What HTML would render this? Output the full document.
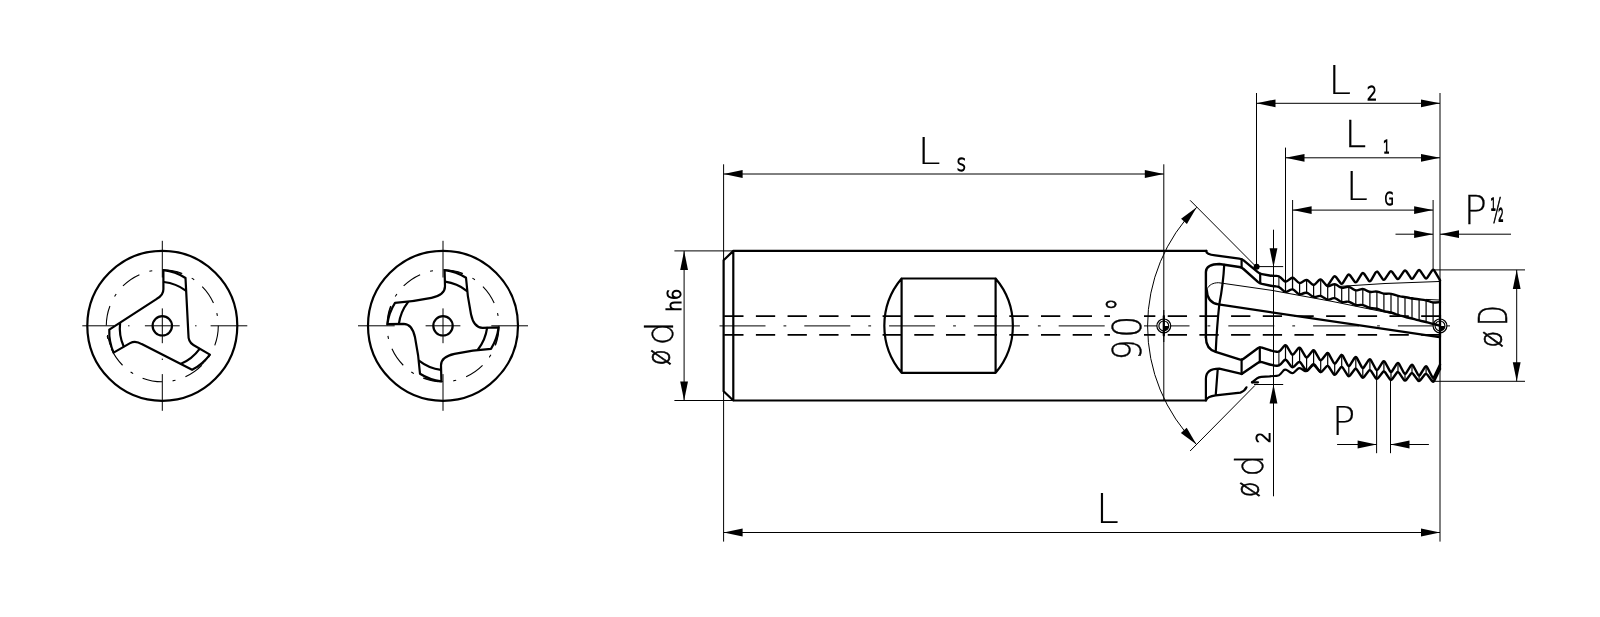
<!DOCTYPE html>
<html><head><meta charset="utf-8"><title>Thread mill drawing</title>
<style>
html,body{margin:0;padding:0;background:#fff}
svg{display:block}
.k{fill:none;stroke:#000;stroke-width:2.2;stroke-linejoin:round;stroke-linecap:round}
.t{fill:none;stroke:#000;stroke-width:1}
.h{stroke-width:1.2}
.z{stroke-width:2.4}
.a{fill:#000;stroke:none}
.x{opacity:.999}
.x text{font-family:"DejaVu Sans Light","DejaVu Sans","Liberation Sans",sans-serif;font-weight:200;font-size:40px;fill:#000;stroke:#000;stroke-width:0;vector-effect:non-scaling-stroke}
</style></head><body>
<svg width="1600" height="617" viewBox="0 0 1600 617">
<rect width="1600" height="617" fill="#fff"/>
<path class="t" d="M82.3,325.8L114.0,325.8"/><path class="t" d="M162.3,240.8L162.3,277.5"/><path class="t" d="M128.1,325.8L129.5,325.8"/><path class="t" d="M162.3,291.6L162.3,293.0"/><path class="t" d="M144.9,325.8L179.7,325.8"/><path class="t" d="M162.3,308.4L162.3,343.2"/><path class="t" d="M195.1,325.8L196.5,325.8"/><path class="t" d="M162.3,358.6L162.3,360.0"/><path class="t" d="M210.6,325.8L247.3,325.8"/><path class="t" d="M162.3,374.1L162.3,410.8"/>
<g transform="translate(162.3,325.8)"><circle class="k" r="75"/><circle class="t" r="56" stroke-dasharray="20 10.5 3 10.48" style="stroke-width:1.1"/><circle class="k" r="9.7"/><path class="k" d="M1.1,-55.6A52,52 0 0 1 23.2,-47.8L26.1,8.7Q25.8,16.2 31.1,19.2L47.6,28.8A52,52 0 0 1 29.8,44.0L-20.6,18.3Q-26.9,14.2 -32.2,17.3L-48.7,26.8A52,52 0 0 1 -53.0,3.8L-5.5,-27.0Q1.1,-30.4 1.1,-36.5Z"/><path class="k" d="M1.6,-43.8A45,45 0 0 1 23.5,-35.2"/><path class="t" d="M1.1,-55.6A55.6,55.6 0 0 1 19.5,-52.1"/><path class="k" d="M37.1,23.3A45,45 0 0 1 18.7,38.0"/><path class="t" d="M47.6,28.8A55.6,55.6 0 0 1 35.4,42.9"/><path class="k" d="M-38.7,20.5A45,45 0 0 1 -42.2,-2.8"/><path class="t" d="M-48.7,26.8A55.6,55.6 0 0 1 -54.9,9.2"/></g>
<path class="t" d="M358.0,325.8L394.7,325.8"/><path class="t" d="M443.0,240.8L443.0,277.5"/><path class="t" d="M408.8,325.8L410.2,325.8"/><path class="t" d="M443.0,291.6L443.0,293.0"/><path class="t" d="M425.6,325.8L460.4,325.8"/><path class="t" d="M443.0,308.4L443.0,343.2"/><path class="t" d="M475.8,325.8L477.2,325.8"/><path class="t" d="M443.0,358.6L443.0,360.0"/><path class="t" d="M491.3,325.8L528.0,325.8"/><path class="t" d="M443.0,374.1L443.0,410.8"/>
<g transform="translate(443.0,325.8)"><circle class="k" r="75"/><circle class="t" r="56" stroke-dasharray="20 10.5 3 10.48" style="stroke-width:1.1"/><circle class="k" r="9.7"/><path class="k" d="M1.6,-55.6A52,52 0 0 1 23.0,-48.0Q24.2,-30.0 28.0,-11.5C29.3,-5.2 32.0,2.0 39.5,2.0L55.6,1.6A52,52 0 0 1 48.0,23.0Q30.0,24.2 11.5,28.0C5.2,29.3 -2.0,32.0 -2.0,39.5L-1.6,55.6A52,52 0 0 1 -23.0,48.0Q-24.2,30.0 -28.0,11.5C-29.3,5.2 -32.0,-2.0 -39.5,-2.0L-55.6,-1.6A52,52 0 0 1 -48.0,-23.0Q-30.0,-24.2 -11.5,-28.0C-5.2,-29.3 2.0,-32.0 2.0,-39.5Z"/><path class="k" d="M2.1,-44.1A45,45 0 0 1 23.7,-35.0"/><path class="t" d="M1.6,-55.6A55.6,55.6 0 0 1 19.5,-52.1"/><path class="k" d="M44.1,2.1A45,45 0 0 1 35.0,23.7"/><path class="t" d="M55.6,1.6A55.6,55.6 0 0 1 52.1,19.5"/><path class="k" d="M-2.1,44.1A45,45 0 0 1 -23.7,35.0"/><path class="t" d="M-1.6,55.6A55.6,55.6 0 0 1 -19.5,52.1"/><path class="k" d="M-44.1,-2.1A45,45 0 0 1 -35.0,-23.7"/><path class="t" d="M-55.6,-1.6A55.6,55.6 0 0 1 -52.1,-19.5"/></g>
<path class="t" d="M719.5,325.9L765.5,325.9"/>
<path class="t" d="M783.5,325.9L786.3,325.9"/>
<path class="t" d="M804.3,325.9L850.3,325.9"/>
<path class="t" d="M868.3,325.9L871.1,325.9"/>
<path class="t" d="M889.1,325.9L935.1,325.9"/>
<path class="t" d="M953.1,325.9L955.9,325.9"/>
<path class="t" d="M973.9,325.9L1019.9,325.9"/>
<path class="t" d="M1037.9,325.9L1040.7,325.9"/>
<path class="t" d="M1058.7,325.9L1104.7,325.9"/>
<path class="t" d="M1122.7,325.9L1125.5,325.9"/>
<path class="t" d="M1143.5,325.9L1189.5,325.9"/>
<path class="t" d="M1207.5,325.9L1210.3,325.9"/>
<path class="t" d="M1228.3,325.9L1274.3,325.9"/>
<path class="t" d="M1292.3,325.9L1295.1,325.9"/>
<path class="t" d="M1313.1,325.9L1359.1,325.9"/>
<path class="t" d="M1377.1,325.9L1379.9,325.9"/>
<path class="t" d="M1397.9,325.9L1450.0,325.9"/>
<path class="k" d="M724.2,316.2H1440" stroke-dasharray="19.3 12.38" style="stroke-linecap:butt;stroke-width:1.8"/>
<path class="k" d="M724.2,334.9H1440" stroke-dasharray="19.3 12.38" style="stroke-linecap:butt;stroke-width:1.8"/>
<path class="t" d="M723.6,164.3L723.6,541.6"/>
<path class="t" d="M1163.8,164.3L1163.8,400.5"/>
<path class="t" d="M723.6,174.0L1163.8,174.0"/>
<path class="t" d="M723.6,532.5L1440.0,532.5"/>
<path class="t" d="M684.1,250.9L684.1,400.5"/>
<path class="t" d="M674.4,250.9L733.0,250.9"/>
<path class="t" d="M674.4,400.5L733.0,400.5"/>
<path class="t" d="M1256.5,103.3L1440.0,103.3"/>
<path class="t" d="M1256.5,93.0L1256.5,267.2"/>
<path class="t" d="M1440.0,93.0L1440.0,541.6"/>
<path class="t" d="M1285.5,157.8L1440.0,157.8"/>
<path class="t" d="M1285.5,147.6L1285.5,291.9"/>
<path class="t" d="M1292.6,210.1L1433.1,210.1"/>
<path class="t" d="M1292.6,200.0L1292.6,289.3"/>
<path class="t" d="M1433.1,200.0L1433.1,269.7"/>
<path class="t" d="M1395.5,234.2L1433.1,234.2"/>
<path class="t" d="M1440.0,234.2L1511.0,234.2"/>
<path class="t" d="M1516.7,269.9L1516.7,381.3"/>
<path class="t" d="M1433.1,269.9L1525.0,269.9"/>
<path class="t" d="M1433.1,381.3L1525.0,381.3"/>
<path class="t" d="M1337.1,444.5L1376.6,444.5"/>
<path class="t" d="M1390.5,444.5L1428.9,444.5"/>
<path class="t" d="M1376.6,370.1L1376.6,453.2"/>
<path class="t" d="M1390.5,380.0L1390.5,453.2"/>
<path class="t" d="M1273.5,229.7L1273.5,496.3"/>
<path class="t" d="M1256.6,266.6L1283.2,266.6"/>
<path class="t" d="M1254.0,384.5L1283.2,384.5"/>
<path class="t" d="M1256.6,267.2L1190.1,200.3"/>
<path class="t" d="M1254.8,385.6L1190.1,451.0"/>
<polygon class="a" points="723.6,174.0 742.6,170.1 742.6,177.9"/>
<polygon class="a" points="1163.8,174.0 1144.8,177.9 1144.8,170.1"/>
<polygon class="a" points="723.6,532.5 742.6,528.6 742.6,536.4"/>
<polygon class="a" points="1440.0,532.5 1421.0,536.4 1421.0,528.6"/>
<polygon class="a" points="684.1,250.9 688.0,269.9 680.2,269.9"/>
<polygon class="a" points="684.1,400.5 680.2,381.5 688.0,381.5"/>
<polygon class="a" points="1256.5,103.3 1275.5,99.4 1275.5,107.2"/>
<polygon class="a" points="1440.0,103.3 1421.0,107.2 1421.0,99.4"/>
<polygon class="a" points="1285.5,157.8 1304.5,153.9 1304.5,161.7"/>
<polygon class="a" points="1440.0,157.8 1421.0,161.7 1421.0,153.9"/>
<polygon class="a" points="1292.6,210.1 1311.6,206.2 1311.6,214.0"/>
<polygon class="a" points="1433.1,210.1 1414.1,214.0 1414.1,206.2"/>
<polygon class="a" points="1433.1,234.2 1414.1,238.1 1414.1,230.3"/>
<polygon class="a" points="1440.0,234.2 1459.0,230.3 1459.0,238.1"/>
<polygon class="a" points="1516.7,269.9 1520.6,288.9 1512.8,288.9"/>
<polygon class="a" points="1516.7,381.3 1512.8,362.3 1520.6,362.3"/>
<polygon class="a" points="1376.6,444.5 1357.6,448.4 1357.6,440.6"/>
<polygon class="a" points="1390.5,444.5 1409.5,440.6 1409.5,448.4"/>
<polygon class="a" points="1273.5,267.2 1269.6,248.2 1277.4,248.2"/>
<polygon class="a" points="1273.5,384.5 1277.4,403.5 1269.6,403.5"/>
<circle class="a" cx="1256.6" cy="266.8" r="3"/>
<path class="t" d="M1196.7,207.3A168.0,168.0 0 0 0 1196.5,444.5"/>
<polygon class="a" points="1196.7,207.3 1186.9,224.0 1181.1,218.8"/>
<polygon class="a" points="1196.5,444.5 1180.9,432.9 1186.7,427.8"/>
<path class="k" d="M1206.3,250.9H733.3V400.5H1205.9M733.3,250.9L723.6,260.3V391.2L733.3,400.5"/>
<path class="k" d="M901.6,278.5H995.6V372.8H901.6ZM901.6,278.5A73,73 0 0 0 901.6,372.8M995.6,278.5A73,73 0 0 1 995.6,372.8"/>
<path class="t h" d="M1285.5,281.7L1285.5,291.9"/>
<path class="t h" d="M1285.5,345.1L1285.5,359.7"/>
<path class="t h" d="M1292.5,277.7L1292.5,289.3"/>
<path class="t h" d="M1292.5,354.6L1292.5,367.3"/>
<path class="t h" d="M1299.6,283.1L1299.6,294.4"/>
<path class="t h" d="M1299.6,347.7L1299.6,361.9"/>
<path class="t h" d="M1306.6,279.9L1306.6,292.6"/>
<path class="t h" d="M1306.6,357.5L1306.6,370.6"/>
<path class="t h" d="M1313.6,285.0L1313.6,297.0"/>
<path class="t h" d="M1313.6,350.2L1313.6,364.1"/>
<path class="t h" d="M1320.7,279.3L1320.7,295.9"/>
<path class="t h" d="M1320.7,360.4L1320.7,372.1"/>
<path class="t h" d="M1327.7,286.2L1327.7,299.7"/>
<path class="t h" d="M1327.7,352.9L1327.7,365.8"/>
<path class="t h" d="M1334.7,284.2L1334.7,298.1"/>
<path class="t h" d="M1334.7,363.6L1334.7,374.9"/>
<path class="t h" d="M1341.7,287.9L1341.7,302.1"/>
<path class="t h" d="M1341.7,354.8L1341.7,366.9"/>
<path class="t h" d="M1348.8,286.8L1348.8,301.7"/>
<path class="t h" d="M1348.8,366.1L1348.8,376.3"/>
<path class="t h" d="M1355.8,290.4L1355.8,305.0"/>
<path class="t h" d="M1355.8,357.0L1355.8,368.7"/>
<path class="t h" d="M1362.8,289.0L1362.8,305.0"/>
<path class="t h" d="M1362.8,368.0L1362.8,377.8"/>
<path class="t h" d="M1369.9,291.9L1369.9,308.0"/>
<path class="t h" d="M1369.9,359.2L1369.9,370.1"/>
<path class="t h" d="M1376.9,291.5L1376.9,308.8"/>
<path class="t h" d="M1376.9,370.1L1376.9,378.9"/>
<path class="t h" d="M1383.9,293.7L1383.9,311.2"/>
<path class="t h" d="M1383.9,361.2L1383.9,371.4"/>
<path class="t h" d="M1391.0,293.7L1391.0,312.4"/>
<path class="t h" d="M1391.0,372.0L1391.0,380.0"/>
<path class="t h" d="M1398.0,295.9L1398.0,314.9"/>
<path class="t h" d="M1398.0,362.9L1398.0,372.0"/>
<path class="t h" d="M1405.0,297.1L1405.0,316.9"/>
<path class="t h" d="M1405.0,373.8L1405.0,380.7"/>
<path class="t h" d="M1412.0,298.4L1412.0,318.6"/>
<path class="t h" d="M1412.0,364.7L1412.0,373.1"/>
<path class="t h" d="M1419.1,299.3L1419.1,320.4"/>
<path class="t h" d="M1419.1,375.6L1419.1,381.1"/>
<path class="t h" d="M1426.1,300.3L1426.1,322.1"/>
<path class="t h" d="M1426.1,366.1L1426.1,373.8"/>
<path class="t h" d="M1433.1,302.5L1433.1,323.9"/>
<path class="t h" d="M1433.1,377.8L1433.1,381.8"/>
<path class="t" d="M1278.9,276.2L1278.9,286.8"/>
<path class="t" d="M1278.9,351.7L1278.9,365.5"/>
<path class="t" d="M1339.6,286.4L1385.0,283.5L1439.0,281.5"/>
<path class="t" d="M1425.8,299.4L1439.0,300.0"/>
<path class="t" d="M1207.2,288.8C1209,285 1213,282.7 1218.5,282.7L1272,290.4L1332,301.4L1397,314.6"/>
<circle cx="1163.8" cy="325.9" r="6.9" fill="#fff" stroke="#000" stroke-width="1.2"/><circle cx="1163.8" cy="325.9" r="4.9" fill="none" stroke="#000" stroke-width="1.2"/><path fill="#000" d="M1163.8,325.9h4.9a4.9,4.9 0 0 1 -4.9,4.9z"/>
<path class="t" d="M1163.8,310.0L1163.8,342.0"/>
<path class="k" d="M1163.8,316V335.5"/>
<circle cx="1440.0" cy="325.9" r="6.9" fill="#fff" stroke="#000" stroke-width="1.2"/><circle cx="1440.0" cy="325.9" r="4.9" fill="none" stroke="#000" stroke-width="1.2"/><path fill="#000" d="M1440.0,325.9h4.9a4.9,4.9 0 0 1 -4.9,4.9z"/>
<path class="k" d="M1440.0,315V337"/>
<path class="k z" d="M1206.3,250.9C1206,253.2 1209,254.6 1215.3,255.4L1239.3,258.6Q1241.7,258.9 1243.6,260.4L1257.8,272.1Q1259.7,273.7 1262.0,274.1L1269.6,275.5Q1272.0,275.9 1274.4,275.9L1276.6,275.9Q1279.0,275.9 1280.7,277.6L1283.8,280.7Q1285.4,282.4 1287.4,280.9L1290.7,278.5Q1292.6,277.0 1294.3,278.7L1297.8,282.0Q1299.5,283.7 1301.5,282.5L1304.6,280.6Q1306.7,279.3 1308.4,280.9L1311.9,284.1Q1313.6,285.7 1315.3,284.0L1319.0,280.2Q1320.7,278.5 1322.2,280.4L1326.0,284.9Q1327.5,286.8 1329.7,285.9L1332.5,284.7Q1334.8,283.8 1336.8,285.1L1339.7,287.0Q1341.7,288.3 1344.0,287.7L1346.5,287.0Q1348.8,286.4 1350.9,287.7L1353.7,289.5Q1355.7,290.8 1358.0,290.1L1360.6,289.3Q1362.9,288.7 1365.0,289.7L1367.7,291.1Q1369.8,292.2 1372.2,291.9L1374.5,291.6Q1376.9,291.3 1379.2,292.1L1381.6,293.0Q1383.9,293.9 1386.3,293.8L1388.6,293.6Q1391.0,293.5 1393.2,294.3L1395.7,295.2Q1398.0,296.0 1400.3,296.4L1402.6,296.7Q1405.0,297.1 1407.4,297.5L1409.7,298.0Q1412.0,298.4 1414.4,298.7L1416.7,299.0Q1419.1,299.3 1421.5,299.6L1423.7,299.9Q1426.1,300.2 1428.4,301.0L1430.8,301.9Q1433.1,302.7 1435.5,302.5L1440.0,302.1"/>
<path class="k z" d="M1327.7,285.6L1333.2,277.4Q1334.7,275.2 1336.2,277.3L1340.3,282.8Q1341.8,284.9 1343.1,282.7L1347.4,275.6Q1348.7,273.4 1350.2,275.5L1354.3,281.3Q1355.8,283.4 1357.2,281.2L1361.5,274.1Q1362.8,271.9 1364.3,274.0L1368.4,280.2Q1369.9,282.3 1371.2,280.1L1375.5,272.7Q1376.9,270.5 1378.3,272.6L1382.5,278.8Q1383.9,280.9 1385.3,278.7L1389.5,272.3Q1390.9,270.1 1392.4,272.2L1396.5,278.0Q1398.0,280.1 1399.4,277.9L1403.6,271.6Q1405.0,269.4 1406.5,271.5L1410.6,277.7Q1412.1,279.8 1413.5,277.6L1417.7,271.1Q1419.1,268.9 1420.5,271.1L1424.7,277.4Q1426.1,279.6 1427.5,277.4L1431.8,270.8Q1433.2,268.6 1434.5,270.9L1440.0,280.2"/>
<path class="k z" d="M1205.9,337.3V272C1205.9,267 1211,264 1219.3,264.0L1239.4,267.0Q1241.7,267.4 1243.5,269.0L1257.9,281.8Q1259.7,283.3 1262.0,283.9L1269.6,285.5Q1272.0,286.1 1274.4,286.2L1276.3,286.4Q1278.7,286.5 1280.5,288.1L1283.6,290.9Q1285.4,292.5 1287.6,291.4L1290.5,289.8Q1292.6,288.7 1294.4,290.3L1297.7,293.3Q1299.5,294.9 1301.7,294.0L1304.4,293.0Q1306.7,292.1 1308.6,293.6L1311.6,295.9Q1313.5,297.4 1315.9,296.8L1318.4,296.1Q1320.7,295.5 1322.7,296.9L1325.6,298.8Q1327.6,300.1 1329.9,299.3L1332.5,298.4Q1334.8,297.7 1336.7,299.0L1339.7,301.1Q1341.7,302.4 1344.0,302.1L1346.4,301.7Q1348.8,301.4 1350.9,302.6L1353.6,304.1Q1355.7,305.3 1358.1,305.1L1360.5,304.9Q1362.9,304.8 1365.0,305.8L1367.7,307.1Q1369.8,308.2 1372.2,308.3L1374.5,308.5Q1376.9,308.7 1379.2,309.5L1381.6,310.4Q1383.9,311.3 1386.3,311.6L1388.6,312.0Q1391.0,312.3 1393.2,313.1L1395.7,314.1Q1398.0,314.9 1400.3,315.6L1402.7,316.2Q1405.0,316.9 1407.3,317.5L1409.7,318.0Q1412.0,318.6 1414.4,319.2L1416.7,319.8Q1419.1,320.4 1421.4,321.0L1423.8,321.5Q1426.1,322.1 1428.4,322.7L1430.8,323.3Q1433.1,323.9 1435.4,324.5L1439.5,325.6"/>
<path class="k" d="M1241.6,259.2V267.7M1260.2,273.5V283.1M1241.6,359.6V373.9M1259.8,347.4V362"/>
<path class="k z" d="M1205.9,337.3C1205.9,345 1209,350 1215.7,351.9L1239.4,359.4Q1241.7,360.1 1243.6,358.7L1257.8,348.3Q1259.7,346.9 1262.0,347.7L1269.7,350.2Q1272.0,351.0 1274.3,351.4L1276.7,351.8Q1279.1,352.2 1280.6,350.3L1284.1,346.1Q1285.6,344.2 1286.8,346.2L1291.2,353.5Q1292.5,355.5 1294.0,353.7L1298.1,348.6Q1299.6,346.8 1300.9,348.9L1305.3,356.4Q1306.5,358.4 1308.0,356.5L1312.2,351.2Q1313.7,349.3 1314.9,351.4L1319.4,359.2Q1320.6,361.3 1322.0,359.4L1326.3,353.9Q1327.8,352.0 1328.9,354.1L1333.5,362.5Q1334.7,364.6 1336.0,362.6L1340.5,355.8Q1341.8,353.8 1342.9,355.9L1347.6,365.0Q1348.7,367.1 1350.0,365.1L1354.5,358.0Q1355.8,356.0 1357.0,358.1L1361.6,366.9Q1362.8,369.0 1364.1,367.0L1368.6,360.2Q1369.9,358.2 1371.0,360.3L1375.7,369.0Q1376.8,371.1 1378.2,369.1L1382.6,362.2Q1384.0,360.2 1385.1,362.3L1389.8,370.9Q1390.9,373.0 1392.2,371.0L1396.7,363.9Q1398.0,361.9 1399.2,364.0L1403.8,372.7Q1405.0,374.8 1406.3,372.8L1410.8,365.7Q1412.1,363.7 1413.2,365.8L1417.9,374.5Q1419.0,376.6 1420.3,374.5L1424.9,367.1Q1426.1,365.1 1427.2,367.2L1432.1,376.7Q1433.2,378.8 1434.2,376.7L1440.0,364.7"/>
<path class="k z" d="M1241.6,373.9L1257.7,362.9Q1259.7,361.5 1262.0,362.2L1269.7,364.5Q1272.0,365.2 1274.4,365.5L1276.7,365.7Q1279.0,365.9 1280.7,364.2L1283.9,360.6Q1285.5,358.9 1287.0,360.8L1291.0,366.2Q1292.5,368.1 1294.2,366.4L1297.9,362.7Q1299.7,361.1 1301.0,363.1L1305.2,369.5Q1306.5,371.5 1308.1,369.7L1312.1,365.1Q1313.7,363.2 1315.1,365.2L1319.2,371.0Q1320.6,373.0 1322.2,371.2L1326.2,366.7Q1327.8,364.9 1329.0,367.0L1333.4,373.8Q1334.7,375.8 1336.1,373.9L1340.4,367.9Q1341.8,366.0 1343.0,368.0L1347.5,375.2Q1348.7,377.2 1350.2,375.3L1354.4,369.7Q1355.8,367.8 1357.1,369.8L1361.5,376.7Q1362.8,378.7 1364.2,376.8L1368.5,371.1Q1369.9,369.2 1371.2,371.2L1375.5,377.8Q1376.9,379.8 1378.3,377.9L1382.5,372.4Q1384.0,370.5 1385.3,372.5L1389.6,378.9Q1390.9,380.9 1392.3,379.0L1396.6,373.0Q1398.0,371.1 1399.3,373.1L1403.7,379.6Q1405.0,381.6 1406.4,379.7L1410.6,374.1Q1412.1,372.2 1413.4,374.2L1417.7,380.0Q1419.0,382.0 1420.5,380.1L1424.6,374.8Q1426.1,372.9 1427.5,374.9L1431.8,380.8Q1433.2,382.8 1434.3,380.6L1440.0,369.0"/>
<path class="k" d="M1241.6,373.9L1219.3,368.6C1211,368.6 1205.9,372 1205.9,378.8V400.5C1207,397.5 1211,396 1215.7,395.4L1240.4,392.6Q1244.8,391 1246.5,387.3M1217.7,369.3L1215.7,395.4"/>
<path class="k" d="M1252.0,382.3L1257.0,378.4Q1258.9,376.9 1261.3,376.8L1269.6,376.3Q1272.0,376.1 1274.4,376.0L1276.7,375.9Q1279.1,375.8 1280.6,373.9L1283.4,370.6Q1285.0,368.8 1287.0,370.2L1290.5,372.5Q1292.5,373.8 1294.2,372.2L1297.5,369.1Q1299.2,367.5 1301.3,368.8L1304.3,370.7Q1306.4,371.9 1308.0,370.2L1311.9,366.1Q1313.5,364.4 1315.1,366.2L1320.5,372.1"/>
<path class="k" d="M1252,382.3H1258"/>
<path class="k" d="M1206.8,289.9C1207,298 1211,303.3 1218.5,304.4L1439.5,337.1"/>
<path class="k" d="M1224.2,264.9C1223.5,280 1221.5,293 1219.3,304.4C1217.8,318 1216.5,335 1215.7,351.9"/>
<path class="k" d="M1440.0,280.2V369"/>
<rect x="1110" y="296" width="34" height="66" fill="#fff"/>
<g class="x">
<text transform="translate(917.63,163.98) scale(1.017,0.948)" style="stroke-width:0.23">L</text>
<text transform="translate(956.83,170.61) scale(0.360,0.437)" style="stroke-width:1.25">S</text>
<text transform="translate(1096.09,523.01) scale(1.020,1.011)" style="stroke-width:0.17">L</text>
<text transform="translate(1328.36,93.61) scale(1.026,0.994)" style="stroke-width:0.18">L</text>
<text transform="translate(1367.08,100.21) scale(0.394,0.496)" style="stroke-width:1.17">2</text>
<text transform="translate(1344.54,147.17) scale(0.978,0.953)" style="stroke-width:0.26">L</text>
<text transform="translate(1383.26,152.83) scale(0.254,0.437)" style="stroke-width:1.35">1</text>
<text transform="translate(1345.92,199.88) scale(0.979,0.975)" style="stroke-width:0.24">L</text>
<text transform="translate(1384.56,205.28) scale(0.299,0.442)" style="stroke-width:1.30">G</text>
<text transform="translate(1463.71,224.27) scale(0.961,0.981)" style="stroke-width:0.25">P</text>
<text transform="translate(1490.58,221.99) scale(0.340,0.848)" style="stroke-width:1.00">½</text>
<text transform="translate(1332.08,434.58) scale(0.968,0.981)" style="stroke-width:0.24">P</text>
<text transform="rotate(-90) translate(-365.55,669.67) scale(0.671,0.815)" style="stroke-width:0.65">ø</text>
<text transform="rotate(-90) translate(-345.48,673.49) scale(0.948,0.919)" style="stroke-width:0.32">d</text>
<text transform="rotate(-90) translate(-311.67,680.65) scale(0.455,0.463)" style="stroke-width:1.15">h6</text>
<text transform="rotate(-90) translate(-497.29,1258.96) scale(0.641,0.810)" style="stroke-width:0.68">ø</text>
<text transform="rotate(-90) translate(-476.42,1263.04) scale(0.848,0.949)" style="stroke-width:0.38">d</text>
<text transform="rotate(-90) translate(-442.88,1269.74) scale(0.445,0.498)" style="stroke-width:1.12">2</text>
<text transform="rotate(-90) translate(-347.81,1502.19) scale(0.700,0.812)" style="stroke-width:0.63">ø</text>
<text transform="rotate(-90) translate(-325.85,1506.54) scale(0.654,0.982)" style="stroke-width:0.52">D</text>
<text transform="rotate(-90) translate(-360.32,1140.63) scale(0.824,0.961)" style="stroke-width:0.39">9</text>
<text transform="rotate(-90) translate(-337.57,1140.64) scale(0.847,0.962)" style="stroke-width:0.37">0</text>
<text transform="rotate(-90) translate(-311.31,1132.55) scale(0.691,0.913)" style="stroke-width:0.55">°</text>
</g>
</svg>
</body></html>
